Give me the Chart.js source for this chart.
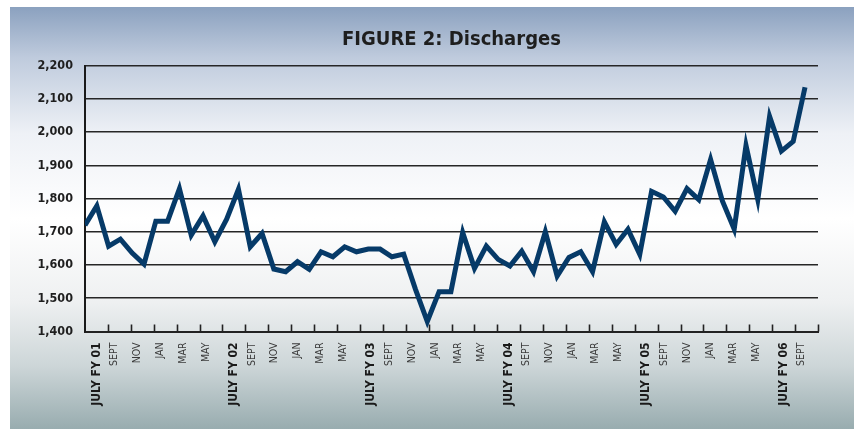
<!DOCTYPE html>
<html>
<head>
<meta charset="utf-8">
<script src="https://cdn.jsdelivr.net/npm/chart.js@4"></script>
<style>
  html, body { margin: 0; padding: 0; background: #fff; }
  #wrap { width: 854px; height: 429px; }
</style>
</head>
<body>
<div id="wrap"><canvas id="chart"></canvas></div>
<script>
// monthly discharges, July FY01 .. Aug FY06
const discharges = [
  1720, 1778, 1657, 1678, 1636, 1603, 1732, 1732, 1830, 1690, 1748, 1670,
  1738, 1828, 1655, 1695, 1588, 1580, 1610, 1587, 1640, 1625, 1655, 1640,
  1648, 1648, 1625, 1633, 1527, 1430, 1520, 1520, 1698, 1590, 1657, 1617,
  1597, 1642, 1580, 1700, 1567, 1623, 1640, 1580, 1730, 1662, 1708, 1632,
  1822, 1805, 1762, 1830, 1797, 1918, 1793, 1708, 1960, 1797, 2047, 1943,
  1972, 2135
];

const xLabels = [
  "JULY FY 01", "SEPT", "NOV", "JAN", "MAR", "MAY",
  "JULY FY 02", "SEPT", "NOV", "JAN", "MAR", "MAY",
  "JULY FY 03", "SEPT", "NOV", "JAN", "MAR", "MAY",
  "JULY FY 04", "SEPT", "NOV", "JAN", "MAR", "MAY",
  "JULY FY 05", "SEPT", "NOV", "JAN", "MAR", "MAY",
  "JULY FY 06", "SEPT"
];

const Y_MIN = 1400, Y_MAX = 2200, Y_STEP = 100;

const FONT = "'DejaVu Sans Condensed', 'DejaVu Sans', Arial, sans-serif";
const XMAX = 62.1;                    // axis runs a little past the last month
const SLOT = XMAX / xLabels.length;   // width of one label slot

// light steel-blue panel behind everything
const panelBg = {
  id: "panelBg",
  beforeDraw(chart) {
    const ctx = chart.ctx;
    const g = ctx.createLinearGradient(0, 7, 0, 429);
    g.addColorStop(0, "#8ba1bf");
    g.addColorStop(0.12, "#bfcbdd");
    g.addColorStop(0.3, "#eef1f6");
    g.addColorStop(0.5, "#ffffff");
    g.addColorStop(0.7, "#eef0f1");
    g.addColorStop(0.85, "#cdd6d8");
    g.addColorStop(1, "#98acaf");
    ctx.save();
    ctx.fillStyle = g;
    ctx.fillRect(10, 7, chart.width - 10, chart.height - 7);
    ctx.restore();
  }
};

// short tick marks pointing up from the x axis at every slot boundary
const innerTicks = {
  id: "innerTicks",
  beforeDatasetsDraw(chart) {
    const ctx = chart.ctx, xs = chart.scales.x, y0 = chart.chartArea.bottom;
    ctx.save();
    ctx.strokeStyle = "#222";
    ctx.lineWidth = 1.6;
    ctx.beginPath();
    for (let k = 1; k <= xLabels.length; k++) {
      const px = Math.round(xs.getPixelForValue(k * SLOT)) + 0.5;
      ctx.moveTo(px, y0);
      ctx.lineTo(px, y0 - 7);
    }
    ctx.stroke();
    ctx.restore();
  }
};

new Chart(document.getElementById("chart"), {
  type: "line",
  data: {
    datasets: [{
      data: discharges.map((v, i) => ({ x: i, y: v })),
      borderColor: "#063a68",
      borderWidth: 5,
      borderJoinStyle: "miter",
      pointRadius: 0,
      tension: 0,
      fill: false
    }]
  },
  options: {
    responsive: true,
    maintainAspectRatio: false,
    animation: false,
    layout: { padding: { left: 10, right: 36, top: 0, bottom: 0 } },
    plugins: {
      legend: { display: false },
      tooltip: { enabled: false },
      title: {
        display: true,
        text: "FIGURE 2: Discharges",
        fullSize: false,
        color: "#1e1e1e",
        font: { family: FONT, size: 20, weight: "bold", lineHeight: 1.2 },
        padding: { top: 28, bottom: 13.7 }
      }
    },
    scales: {
      x: {
        type: "linear",
        min: 0,
        max: XMAX,
        afterBuildTicks: s => {
          s.ticks = xLabels.map((l, k) => ({ value: (k + 0.5) * SLOT - (k % 6 === 0 ? 0 : 0.42) }));
        },
        afterFit: s => { s.height = 97.5; },
        grid: { drawOnChartArea: false, drawTicks: false },
        border: { color: "#222", width: 2 },
        ticks: {
          autoSkip: false,
          minRotation: 90,
          maxRotation: 90,
          padding: 11,
          callback: (v, i) => xLabels[i],
          color: ctx => ctx.index % 6 === 0 ? "#1a1a1a" : "#3a3a3a",
          font: ctx => ctx.index % 6 === 0
            ? { family: FONT, size: 12, weight: "bold" }
            : { family: FONT, size: 10.5, weight: "normal" }
        }
      },
      y: {
        min: Y_MIN,
        max: Y_MAX,
        afterFit: s => { s.width = 75; },
        grid: { color: "#262626", lineWidth: 1.6, drawTicks: false },
        border: { color: "#1a1a1a", width: 2 },
        ticks: {
          stepSize: Y_STEP,
          padding: 12,
          color: "#1e1e1e",
          font: { family: FONT, size: 12.5, weight: "bold" },
          callback: v => v.toLocaleString("en-US")
        }
      }
    }
  },
  plugins: [panelBg, innerTicks]
});
</script>
</body>
</html>
